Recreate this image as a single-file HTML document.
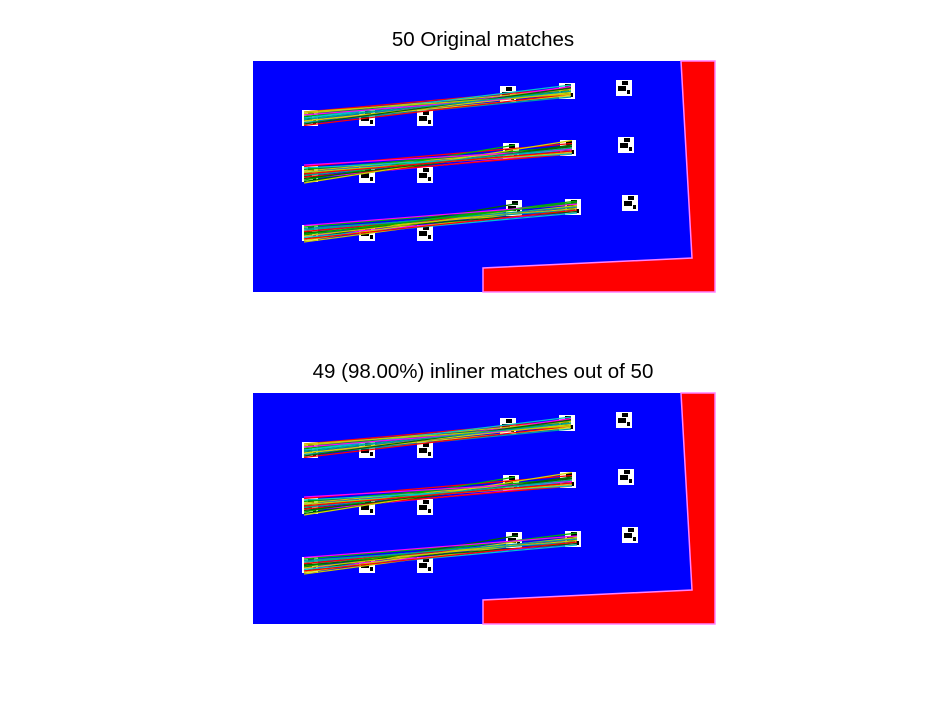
<!DOCTYPE html>
<html><head><meta charset="utf-8"><style>
body{margin:0;background:#fff;width:935px;height:702px;overflow:hidden}
svg{display:block}
text{font-family:"Liberation Sans",sans-serif;font-size:20.5px}
</style></head><body>
<svg id="fig" width="935" height="702">
<text x="483" y="46" text-anchor="middle">50 Original matches</text>
<text x="483" y="378" text-anchor="middle">49 (98.00%) inliner matches out of 50</text>
<g id="p1"></g>
<g id="p2"></g>
</svg>
<script>
const markerX=[310,367,425,508,567,624,310,367,425,511,568,626,310,367,425,514,573,630];
const markerY=[118,118,118,94,91,88,174,175,175,151,148,145,233,233,233,208,207,203];
const matchFrom=[0,0,0,0,0,0,0,0,0,0,0,0,0,0,0,0,6,6,6,6,6,6,6,6,6,6,6,6,6,6,6,6,6,12,12,12,12,12,12,12,12,12,12,12,12,12,12,12,12,12];
const matchTo=[4,4,4,4,4,3,4,4,4,4,4,4,3,4,4,4,10,10,10,9,10,10,10,10,10,9,10,10,10,10,10,10,10,16,16,16,16,15,16,16,16,16,16,15,16,16,16,16,16,16];
const offA=[-4,-2,0,2,4,1,-3,3,5,-1,0,2,-2,4,-4,1,-5,-3,-1,1,3,5,-2,0,2,4,-4,6,-6,3,-1,1,0,-4,-2,0,2,4,6,-3,-1,1,3,5,-5,0,2,-2,4,1];
const offB=[-2,0,1,3,-3,2,-1,4,2,0,-4,1,3,-2,2,0,-3,-1,1,2,3,-2,0,2,4,-4,4,-5,1,-1,3,0,2,-2,0,1,3,-3,-1,2,0,-4,4,1,-2,3,-1,0,2,-3];
const colors=['#ff0000','#00b000','#00c8c8','#d4d400','#ff00ff','#006400','#c8c800','#00a0a0'];
const NS='http://www.w3.org/2000/svg';
function mk(t,a,p){const e=document.createElementNS(NS,t);for(const k in a)e.setAttribute(k,a[k]);p.appendChild(e);return e;}
function panel(g,oy,n){
  const bg=mk('rect',{x:253,y:61+oy,width:462,height:231,fill:'#0000ff'},g);
  
  
  const red=mk('polygon',{points:`681,${61+oy} 715,${61+oy} 715,${292+oy} 483,${292+oy} 483,${268+oy} 692,${258+oy}`,fill:'#ff0000',stroke:'#ff80ff','stroke-width':1.5},g);
  
  
  for(let i=0;i<markerX.length;i++){
    const m=mk('rect',{x:markerX[i]-8,y:markerY[i]-8+oy,width:16,height:16,fill:'#fff'},g);
    
    
    mk('rect',{x:markerX[i]-6,y:markerY[i]-2+oy,width:8,height:5,fill:'#000'},g);
    mk('rect',{x:markerX[i]-2,y:markerY[i]-7+oy,width:6,height:4,fill:'#000'},g);
    mk('rect',{x:markerX[i]+3,y:markerY[i]+2+oy,width:3,height:4,fill:'#000'},g);
  }
  for(let i=0;i<n;i++){
    const a=matchFrom[i],b=matchTo[i];
    const l=mk('line',{x1:markerX[a]-6,y1:markerY[a]+offA[i]*1.5+oy,x2:markerX[b]+4,y2:markerY[b]+offB[i]*1.5+oy,stroke:colors[i%colors.length],'stroke-width':1.2},g);
    
    
  }
}
panel(document.getElementById('p1'),0,50);
panel(document.getElementById('p2'),332,49);
</script>
</body></html>
